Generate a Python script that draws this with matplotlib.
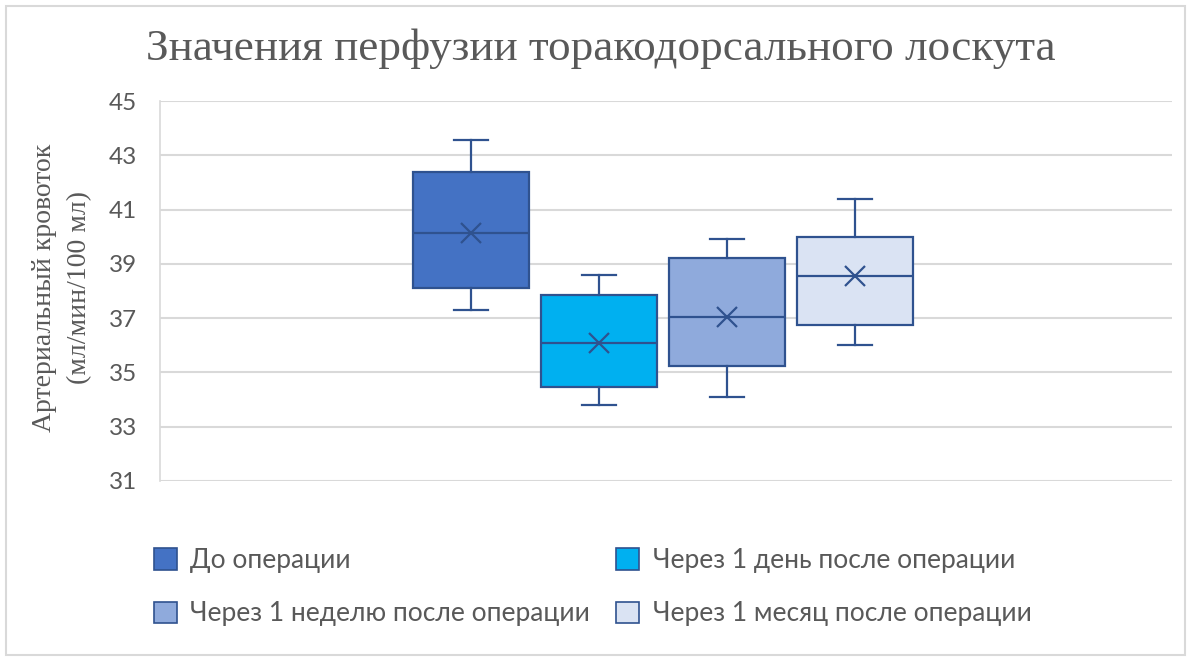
import matplotlib
matplotlib.use("Agg")
import matplotlib.pyplot as plt
from matplotlib.patches import Patch, Rectangle

# Perfusion of the thoracodorsal flap at four time points
groups = ["До операции",
          "Через 1 день после операции",
          "Через 1 неделю после операции",
          "Через 1 месяц после операции"]
whisker_low = [37.3, 33.8, 34.1, 36.0]
quartile_1 = [38.1, 34.45, 35.25, 36.75]
medians = [40.15, 36.1, 37.05, 38.55]
means = [40.15, 36.1, 37.05, 38.55]
quartile_3 = [42.4, 37.85, 39.2, 40.0]
whisker_high = [43.55, 38.6, 39.9, 41.4]
y_ticks = [31, 33, 35, 37, 39, 41, 43, 45]

title = "Значения перфузии торакодорсального лоскута"
y_label = "Артериальный кровоток\n(мл/мин/100 мл)"

fills = ["#4472C4", "#00B0F0", "#8FAADC", "#DAE3F3"]
edge = "#2F528F"
text_grey = "#595959"
grid_grey = "#D9D9D9"

fig = plt.figure(figsize=(11.9, 6.57), dpi=100)
fig.patch.set_facecolor("white")
ax = fig.add_axes([160 / 1190, 1 - 481 / 657, (1172 - 160) / 1190, (481 - 101) / 657])

stats = []
for i, name in enumerate(groups):
    stats.append(dict(label=name, whislo=whisker_low[i], q1=quartile_1[i],
                      med=medians[i], mean=means[i], q3=quartile_3[i],
                      whishi=whisker_high[i], fliers=[]))

positions = list(range(len(groups)))
line_kw = dict(color=edge, linewidth=1.6)
res = ax.bxp(stats, positions=positions, widths=0.9, capwidths=0.26,
             patch_artist=True, showmeans=True, showfliers=False,
             boxprops=dict(edgecolor=edge, linewidth=1.6),
             medianprops=line_kw, whiskerprops=line_kw, capprops=line_kw,
             meanprops=dict(marker="x", markersize=14, markeredgecolor=edge,
                            markeredgewidth=1.6, linestyle="none"),
             manage_ticks=False, zorder=3)
for box, c in zip(res["boxes"], fills):
    box.set_facecolor(c)

ax.set_xlim(-2.43, 5.477)
ax.set_ylim(31, 45)
ax.set_yticks(y_ticks)
ax.set_xticks([])
ax.yaxis.grid(True, color=grid_grey, linewidth=1.5, zorder=0)
ax.set_axisbelow(True)
for side in ["top", "right", "bottom"]:
    ax.spines[side].set_visible(False)
ax.spines["left"].set_color(grid_grey)
ax.spines["left"].set_linewidth(1.2)
ax.tick_params(axis="y", length=0, pad=16.5, labelsize=17.5, labelcolor=text_grey)
for lbl in ax.get_yticklabels():
    lbl.set_family("Lato")

fig.text(601 / 1190, 1 - 60 / 657, title, ha="center", va="baseline",
         family="Liberation Serif", fontsize=32.5, color=text_grey)
fig.text(62 / 1190, 1 - 288 / 657, y_label, ha="center", va="center",
         rotation=90, family="Liberation Serif", fontsize=20,
         color=text_grey, linespacing=1.5)

handles = [Patch(facecolor=c, edgecolor=edge, linewidth=1.2) for c in fills]
order = [0, 2, 1, 3]
fig.legend([handles[i] for i in order], [groups[i] for i in order],
           ncol=2, loc="upper left", bbox_to_anchor=(154 / 1190, 1 - 548 / 657),
           frameon=False, prop=dict(family="Lato", size=19),
           labelcolor=text_grey, handlelength=0.87, handleheight=0.87,
           handletextpad=0.5, labelspacing=1.08, columnspacing=1.0,
           borderaxespad=0, borderpad=0)

# light frame around the whole figure
fig.add_artist(Rectangle((6 / 1190, 2 / 657), 1179 / 1190, 649 / 657,
                         transform=fig.transFigure, fill=False,
                         edgecolor="#D9D9D9", linewidth=1.5))

fig.savefig("out.png", dpi=100, facecolor="white")
